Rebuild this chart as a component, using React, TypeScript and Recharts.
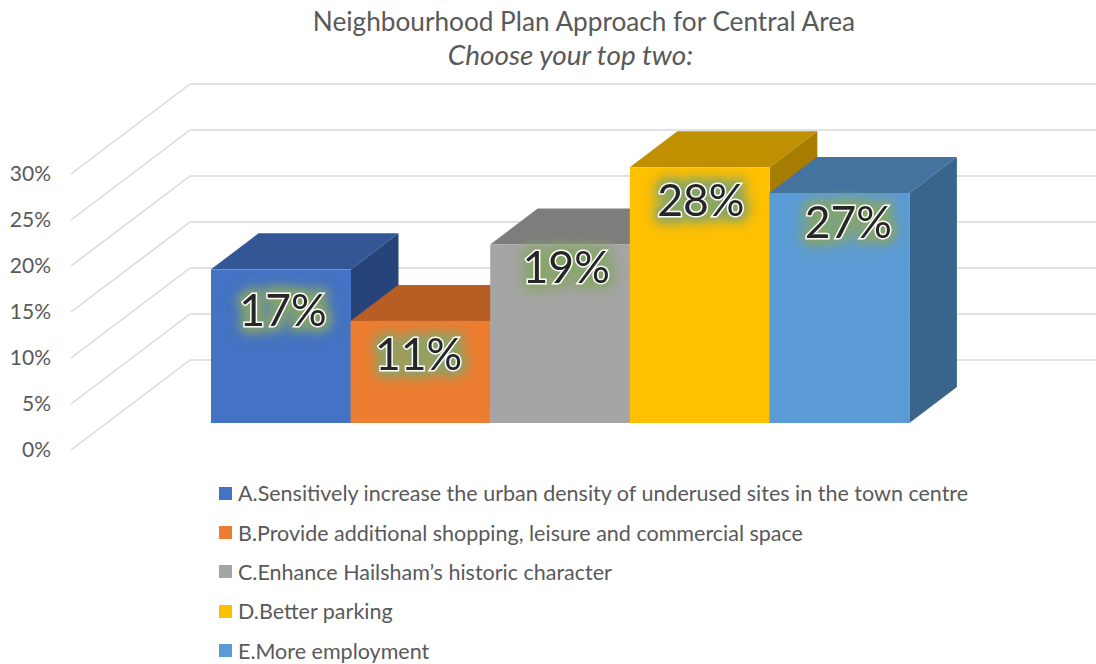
import { BarChart, Bar, XAxis, YAxis, CartesianGrid, LabelList } from 'recharts';

const categories = ['A', 'B', 'C', 'D', 'E'];
const barValues = [16.7, 11.1, 19.4, 27.8, 25];
const valueLabels = ['17%', '11%', '19%', '28%', '27%'];
const legendLabels = [
  'A.Sensitively increase the urban density of underused sites in the town centre',
  'B.Provide additional shopping, leisure and commercial space',
  'C.Enhance Hailsham’s historic character',
  'D.Better parking',
  'E.More employment',
];
const yTicks = [0, 5, 10, 15, 20, 25, 30];

const frontColors = ['#4472c4', '#ed7d31', '#a5a5a5', '#ffc000', '#5b9bd5'];
const topColors = ['#335795', '#b85e24', '#7d7d7d', '#bf9000', '#44739f'];
const sideColors = ['#27447a', '#a9561f', '#6f6f6f', '#a67d00', '#39648c'];

// labels were moved by hand in the original
const labelShiftX = [2, -2, 6, 1, 9];
const labelDrop = [41, 34, 23, 33, 29];

const data = categories.map((name, i) => ({ name, value: barValues[i], label: valueLabels[i] }));

const FONT = 'Lato, "Open Sans", sans-serif';
const GRID = '#d9d9d9';
const DEPTH_X = 47.5;
const DEPTH_Y = 36;

function Box3D({ x, y, width, height, index }: any) {
  const r = x + width;
  const b = y + height;
  return (
    <g>
      <polygon points={`${x},${y} ${r},${y} ${r + DEPTH_X},${y - DEPTH_Y} ${x + DEPTH_X},${y - DEPTH_Y}`} fill={topColors[index]} />
      <polygon points={`${r},${y} ${r + DEPTH_X},${y - DEPTH_Y} ${r + DEPTH_X},${b - DEPTH_Y} ${r},${b}`} fill={sideColors[index]} />
      <rect x={x} y={y} width={width} height={height} fill={frontColors[index]} />
    </g>
  );
}

// wall line plus the slanted floor line running to the axis label
function GridLine({ y1, x1 }: any) {
  const backY = y1 - 63;
  return (
    <g>
      <line x1={x1 - 21} y1={backY} x2={1096} y2={backY} stroke={GRID} strokeWidth={1.5} />
      <line x1={x1 - 21} y1={backY} x2={71} y2={backY + 90} stroke={GRID} strokeWidth={1.5} />
    </g>
  );
}

function YTick({ y, payload }: any) {
  return (
    <text x={51} y={y + 27} dy="0.35em" textAnchor="end" fontFamily={FONT} fontSize={21} fill="#595959">
      {payload.value}%
    </text>
  );
}

function ValueLabel({ x, y, width, index, value }: any) {
  return (
    <text
      x={x + width / 2 + labelShiftX[index]}
      y={y + labelDrop[index]}
      dy="0.35em"
      textAnchor="middle"
      fontFamily={FONT}
      fontSize={44.5}
      fill="#262626"
      stroke="#ffffff"
      strokeWidth={3}
      paintOrder="stroke"
      style={{
        filter:
          'drop-shadow(0 0 6px rgba(135,165,105,0.95)) drop-shadow(0 0 6px rgba(135,165,105,0.95)) drop-shadow(0 0 5px rgba(135,165,105,0.8))',
      }}
    >
      {value}
    </text>
  );
}

export default function App() {
  return (
    <div style={{ position: 'absolute', left: 0, top: 0, width: 1096, height: 664, background: '#fff', overflow: 'hidden', fontFamily: FONT }}>
      <BarChart
        width={1096}
        height={664}
        data={data}
        barCategoryGap={0}
        margin={{ top: 147, left: 171, right: 187, bottom: 241 }}
      >
        <CartesianGrid vertical={false} horizontal={(p: any) => <GridLine key={p.key} {...p} />} />
        <XAxis dataKey="name" hide />
        <YAxis
          width={40}
          domain={[0, 30]}
          ticks={yTicks}
          interval={0}
          axisLine={false}
          tickLine={false}
          tick={(p: any) => <YTick {...p} />}
        />
        <Bar dataKey="value" isAnimationActive={false} shape={(p: any) => <Box3D {...p} />}>
          <LabelList dataKey="label" content={(p: any) => <ValueLabel {...p} />} />
        </Bar>
      </BarChart>

      <div style={{ position: 'absolute', left: 0, top: 4, width: 1168, textAlign: 'center', color: '#595959', fontSize: 26.2, lineHeight: '34px' }}>
        <div>Neighbourhood Plan Approach for Central Area</div>
        <div style={{ fontStyle: 'italic', fontSize: 27.9, marginLeft: -27, marginTop: -1 }}>Choose your top two:</div>
      </div>

      <div style={{ position: 'absolute', left: 219, top: 473.5 }}>
        {legendLabels.map((text, i) => (
          <div key={text} style={{ display: 'flex', alignItems: 'center', height: 39.4, color: '#595959', fontSize: 21.5, whiteSpace: 'nowrap' }}>
            <span style={{ width: 13, height: 13, marginRight: 6, background: frontColors[i] }} />
            {text}
          </div>
        ))}
      </div>
    </div>
  );
}
